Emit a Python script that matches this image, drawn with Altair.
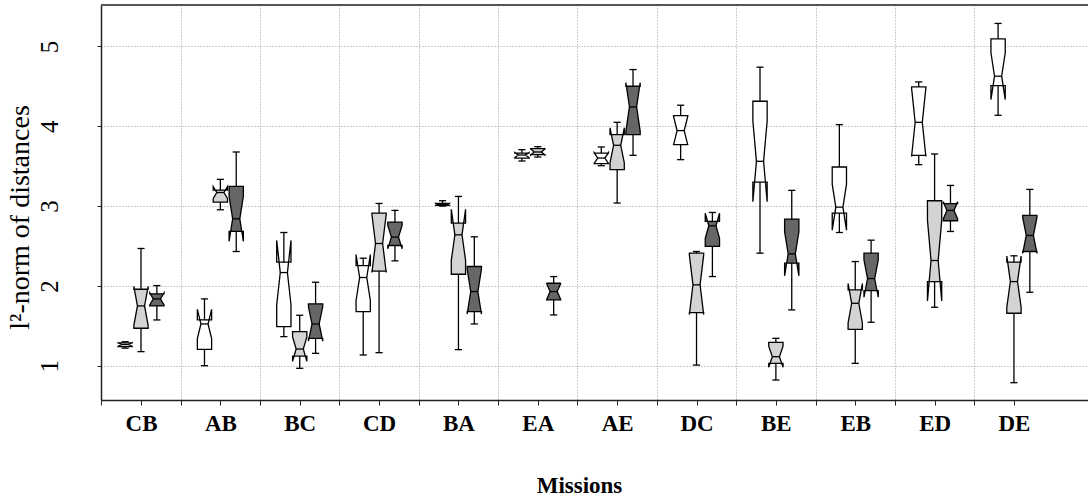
import json
import altair as alt
import pandas as pd

missions = ["CB", "AB", "BC", "CD", "BA", "EA", "AE", "DC", "BE", "EB", "ED", "DE"]
series = ["S1", "S2", "S3"]
fills = ["#ffffff", "#d3d3d3", "#666666"]
n_runs = 10  # observations per box (used for notch width)

# series 1 (white)
s1_wlo = [1.22, 1.00, 1.364, 1.134, 3.000, 3.565, 3.506, 3.582, 2.410, 2.669, 3.519, 4.138]
s1_q1  = [1.24, 1.205, 1.490, 1.678, 3.008, 3.602, 3.531, 3.770, 3.301, 2.912, 3.636, 4.510]
s1_med = [1.265, 1.523, 2.167, 2.105, 3.021, 3.640, 3.602, 3.946, 3.561, 2.987, 4.050, 4.628]
s1_q3  = [1.285, 1.573, 2.297, 2.255, 3.033, 3.665, 3.665, 4.134, 4.314, 3.490, 4.494, 5.096]
s1_whi = [1.30, 1.837, 2.669, 2.347, 3.067, 3.707, 3.741, 4.264, 4.741, 4.021, 4.556, 5.289]
# series 2 (light grey)
s2_wlo = [1.176, 2.954, 0.967, 1.163, 1.201, 3.615, 3.038, 1.008, 0.820, 1.029, 1.732, 0.787]
s2_q1  = [1.469, 3.050, 1.121, 2.184, 2.146, 3.644, 3.456, 1.665, 1.029, 1.456, 2.054, 1.657]
s2_med = [1.749, 3.170, 1.209, 2.531, 2.640, 3.678, 3.762, 2.013, 1.113, 1.782, 2.318, 2.054]
s2_q3  = [1.958, 3.200, 1.427, 2.912, 2.787, 3.720, 3.895, 2.410, 1.293, 1.950, 3.067, 2.297]
s2_whi = [2.469, 3.335, 1.632, 3.033, 3.121, 3.745, 4.050, 2.431, 1.343, 2.305, 3.653, 2.377]
# series 3 (dark grey)
s3_wlo = [1.573, 2.431, 1.155, 2.314, 1.523, 1.636, 3.636, 2.117, 1.699, 1.544, 2.682, 1.920]
s3_q1  = [1.749, 2.682, 1.343, 2.506, 1.678, 1.824, 3.895, 2.494, 2.285, 1.941, 2.816, 2.431]
s3_med = [1.837, 2.841, 1.523, 2.611, 1.929, 1.929, 4.243, 2.753, 2.402, 2.092, 2.946, 2.632]
s3_q3  = [1.900, 3.247, 1.774, 2.799, 2.243, 2.033, 4.502, 2.808, 2.837, 2.410, 3.030, 2.883]
s3_whi = [2.004, 3.678, 2.046, 2.946, 2.615, 2.117, 4.711, 2.920, 3.197, 2.573, 3.259, 3.209]

stats = [
    (s1_wlo, s1_q1, s1_med, s1_q3, s1_whi),
    (s2_wlo, s2_q1, s2_med, s2_q3, s2_whi),
    (s3_wlo, s3_q1, s3_med, s3_q3, s3_whi),
]

rows = []
for si, (wlo, q1, med, q3, whi) in enumerate(stats):
    for mi, m in enumerate(missions):
        rows.append(dict(mission=m, idx=mi, series=series[si], sidx=si,
                         wlo=wlo[mi], q1=q1[mi], med=med[mi], q3=q3[mi], whi=whi[mi]))
df = pd.DataFrame(rows)

X_MIN, X_MAX = -0.504, 11.933
Y_MIN, Y_MAX = 0.57, 5.52
FONT = "Liberation Serif"
GRID = "#9a9a9a"
DASH = [1, 2]

xscale = alt.Scale(domain=[X_MIN, X_MAX], nice=False, zero=False)
yscale = alt.Scale(domain=[Y_MIN, Y_MAX], nice=False, zero=False)

tick_vals = [i * 0.5 - 0.5 for i in range(2 * len(missions))]
label_expr = "datum.value % 1 === 0 ? " + json.dumps(missions) + "[datum.value] : ''"

x_axis = alt.Axis(
    values=tick_vals, labelExpr=label_expr, title="Missions",
    labelFont=FONT, labelFontSize=23, labelFontWeight="bold", labelColor="black",
    labelOverlap=False, labelFlush=False, labelBaseline="alphabetic", labelPadding=25,
    tickSize=5, tickColor="#222222", domainColor="#222222", domainWidth=1.5,
    grid=True, gridColor=GRID, gridDash=DASH, gridWidth=1,
    gridOpacity={"condition": {"test": "datum.value % 1 === 0", "value": 0}, "value": 1},
    titleFont=FONT, titleFontSize=23, titleFontWeight="bold", titleColor="black",
    titleX=478, titleY=92, titleBaseline="alphabetic", titleAlign="center",
)
y_axis = alt.Axis(
    values=[1, 2, 3, 4, 5], title="l²-norm of distances", format="d",
    labelFont=FONT, labelFontSize=25, labelColor="black", labelAngle=270,
    labelAlign="center", labelBaseline="alphabetic", labelPadding=40, labelFlush=False,
    tickSize=4, tickColor="#222222", domainColor="#222222", domainWidth=1.5,
    grid=True, gridColor=GRID, gridDash=DASH, gridWidth=1,
    titleFont=FONT, titleFontSize=28, titleFontWeight="normal", titleColor="black",
    titleAngle=270, titleX=-73, titleY=212, titleBaseline="alphabetic", titleAlign="center",
)

base = alt.Chart(df).transform_calculate(
    xc="datum.idx + (datum.sidx - 1) * 0.2",
    notch=f"1.58 * (datum.q3 - datum.q1) / sqrt({n_runs})",
).transform_calculate(
    nlo="datum.med - datum.notch",
    nhi="datum.med + datum.notch",
    capl="datum.xc - 0.045",
    capr="datum.xc + 0.045",
)

whisk = base.mark_rule(color="black", strokeWidth=1.3).encode(
    x=alt.X("xc:Q", scale=xscale, axis=x_axis),
    y=alt.Y("wlo:Q", scale=yscale, axis=y_axis),
    y2="whi:Q",
)
cap_lo = base.mark_rule(color="black", strokeWidth=1.3).encode(
    x="capl:Q", x2="capr:Q", y="wlo:Q")
cap_hi = base.mark_rule(color="black", strokeWidth=1.3).encode(
    x="capl:Q", x2="capr:Q", y="whi:Q")

# outline of a notched box: left side bottom->top, right side top->bottom
vkeys = ["v0", "v1", "v2", "v3", "v4", "v5", "v6", "v7", "v8", "v9"]
boxes = base.transform_calculate(
    v0="datum.q1", v1="datum.nlo", v2="datum.med", v3="datum.nhi", v4="datum.q3",
    v5="datum.q3", v6="datum.nhi", v7="datum.med", v8="datum.nlo", v9="datum.q1",
).transform_fold(vkeys, as_=["kind", "yv"]).transform_calculate(
    ord="indexof(" + json.dumps(vkeys) + ", datum.kind)",
).transform_calculate(
    side="datum.ord < 5 ? -1 : 1",
    frac="(datum.ord === 2 || datum.ord === 7) ? 0.5 : 1",
).transform_calculate(
    xv="datum.xc + datum.side * 0.09 * datum.frac",
).mark_line(interpolate="linear-closed", stroke="black", strokeWidth=1.3,
            strokeJoin="miter").encode(
    x="xv:Q",
    y="yv:Q",
    fill=alt.Fill("series:N", scale=alt.Scale(domain=series, range=fills), legend=None),
    detail=["mission:N", "series:N"],
    order="ord:Q",
)

medians = base.mark_rule(color="black", strokeWidth=1.3).encode(
    x="capl:Q", x2="capr:Q", y="med:Q")

frame = alt.Chart(pd.DataFrame({"k": [0]})).mark_rule(color="#555555", strokeWidth=2).encode(
    x=alt.datum(X_MIN), x2=alt.datum(X_MAX), y=alt.datum(Y_MAX))

chart = alt.layer(whisk, cap_lo, cap_hi, boxes, medians, frame).properties(
    width=987, height=395,
    autosize=alt.AutoSizeParams(type="none"),
    padding={"left": 101, "top": 5, "right": 0, "bottom": 98},
).configure_view(stroke=None).configure(background="white")

chart.save("out.html", embed_options={"renderer": "svg", "actions": False})
